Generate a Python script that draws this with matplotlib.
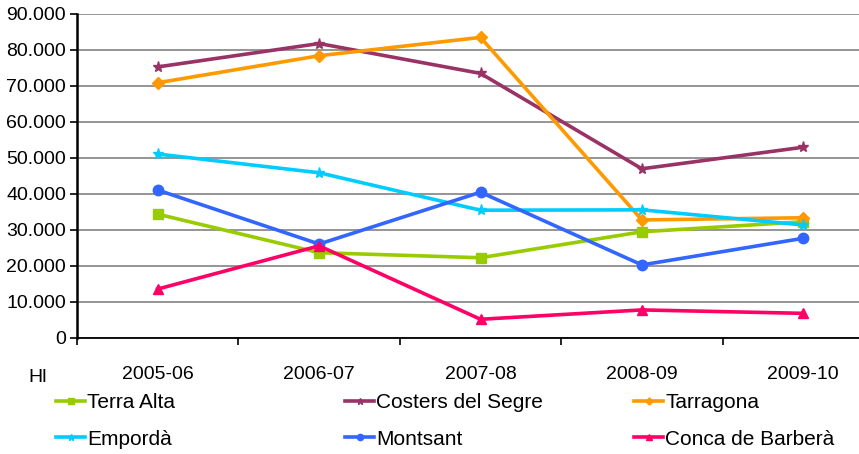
import matplotlib
matplotlib.use("Agg")
import matplotlib.pyplot as plt
from matplotlib.ticker import FuncFormatter, MultipleLocator

plt.rcParams['font.family'] = ['Liberation Sans', 'DejaVu Sans']

categories = ["2005-06", "2006-07", "2007-08", "2008-09", "2009-10"]
terra_alta = [34400, 23700, 22300, 29500, 32300]
costers_del_segre = [75300, 81800, 73500, 47000, 53000]
tarragona = [70900, 78400, 83500, 32800, 33400]
emporda = [51100, 45900, 35500, 35600, 31400]
montsant = [41100, 26100, 40500, 20300, 27700]
conca_de_barbera = [13600, 25600, 5200, 7800, 6850]

series = [
    ("Terra Alta", terra_alta, "#99CC00", "s", 7),
    ("Costers del Segre", costers_del_segre, "#993366", "*", 8),
    ("Tarragona", tarragona, "#FF9900", "D", 6),
    ("Empordà", emporda, "#00CCFF", "*", 8),
    ("Montsant", montsant, "#3366FF", "o", 7.5),
    ("Conca de Barberà", conca_de_barbera, "#FF0066", "^", 7.5),
]

W, H = 859, 454
fig = plt.figure(figsize=(W / 100, H / 100), dpi=100)
ax = fig.add_axes([77 / W, (H - 338) / H, 807 / W, 324 / H])

x = list(range(len(categories)))
handles = {}
for name, vals, col, mk, ms in series:
    ln, = ax.plot(x, vals, color=col, lw=2.6, marker=mk, markersize=ms,
                  markeredgecolor=col, markerfacecolor=col, label=name, zorder=3)
    handles[name] = ln

ax.set_xlim(-0.5, len(categories) - 0.5)
ax.set_ylim(0, 90000)
ax.yaxis.set_major_locator(MultipleLocator(10000))
ax.yaxis.set_major_formatter(FuncFormatter(lambda v, p: f"{v:,.0f}".replace(",", ".")))
ax.set_xticks(x)
ax.set_xticklabels(categories)
ax.set_xticks([i - 0.5 for i in range(len(categories) + 1)], minor=True)
ax.tick_params(axis='x', which='major', length=0, pad=20, labelsize=14)
ax.tick_params(axis='x', which='minor', length=5, width=1.2, direction='out')
ax.tick_params(axis='y', length=5, width=1.2, direction='out', pad=3, labelsize=14)
ax.grid(axis='y', color='#8c8c8c', lw=1.3, zorder=0)
ax.set_axisbelow(True)
for s in ['top', 'right']:
    ax.spines[s].set_visible(False)
ax.spines['left'].set_linewidth(1.8)
ax.spines['bottom'].set_linewidth(1.3)

fig.text(38 / W, 1 - 377 / H, "Hl", fontsize=14, ha='center', va='center')

cols = [("Terra Alta", "Empordà", 56), ("Costers del Segre", "Montsant", 345),
        ("Tarragona", "Conca de Barberà", 634)]
for a, b, px in cols:
    leg = fig.legend([handles[a], handles[b]], [a, b], loc='upper left',
                     bbox_to_anchor=(px / W, 1 - 393 / H), frameon=False,
                     fontsize=15, handlelength=1.4, handletextpad=0.1,
                     borderpad=0, borderaxespad=0, labelspacing=0.85,
                     markerscale=0.6)

fig.savefig("out.png", dpi=100)
